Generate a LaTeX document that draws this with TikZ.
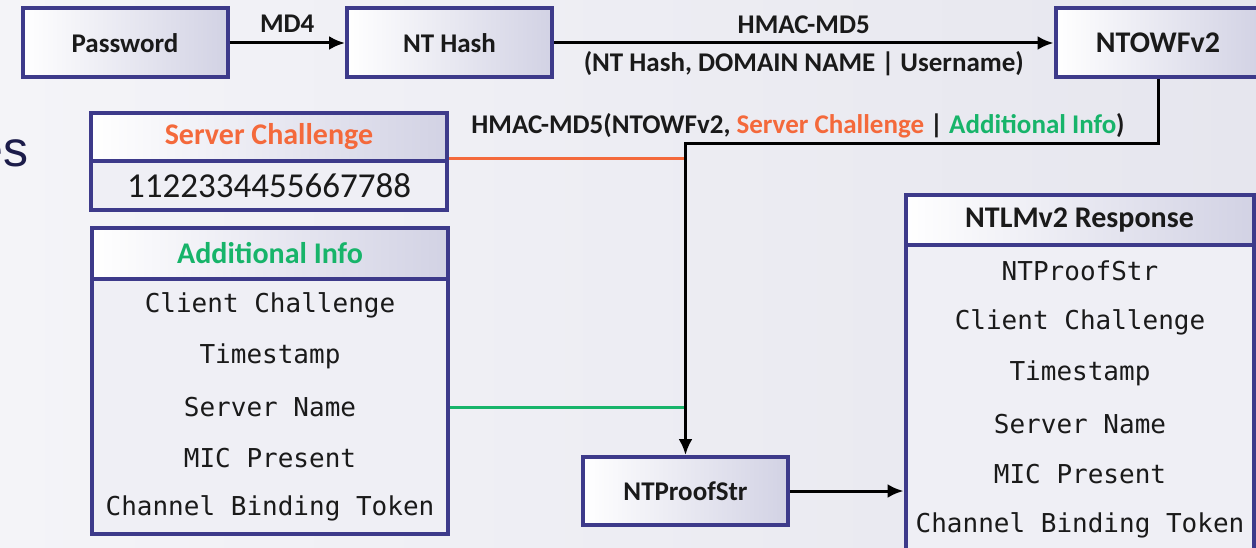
\documentclass[tikz,border=0pt]{standalone}
\usepackage{fontspec}
\setmainfont{Carlito}
\newfontfamily\monofam{DejaVu Sans Mono}
\newfontfamily\slidefam{Liberation Sans}
\usetikzlibrary{arrows.meta}
\definecolor{bgl}{HTML}{F4F4F8}
\definecolor{bgr}{HTML}{E6E6EE}
\definecolor{navy}{HTML}{3D3A8A}
\definecolor{lav}{HTML}{D2D2E4}
\definecolor{bodyfill}{HTML}{EFEFF5}
\definecolor{orng}{HTML}{F4693B}
\definecolor{grn}{HTML}{17B46A}
\definecolor{ink}{HTML}{1A1A1A}
\definecolor{slideink}{HTML}{1C1C4A}
\tikzset{
  procbox/.style={draw=navy, line width=4pt, left color=white, right color=lav,
    minimum width=205pt, minimum height=69pt, inner sep=0pt,
    font=\fontsize{27}{30}\selectfont\bfseries, text=ink},
  headbox/.style={draw=navy, line width=4pt, left color=white, right color=lav,
    minimum width=356pt, inner sep=0pt, font=\fontsize{30}{34}\selectfont\bfseries},
  bodybox/.style={draw=navy, line width=4pt, fill=bodyfill, minimum width=356pt, inner sep=0pt},
  rowtext/.style={font=\monofam\fontsize{26}{28}\selectfont, text=ink, inner sep=0pt},
  arr/.style={draw=black, line width=3pt, -{Latex[length=16pt,width=14pt]}},
  lbl/.style={font=\fontsize{27}{30}\selectfont\bfseries, text=ink, inner sep=0pt},
  feed/.style={line width=3pt}
}
\begin{document}
\begin{tikzpicture}[x=1pt,y=-1pt]
\useasboundingbox (0,0) rectangle (1256,548);
\shade[left color=bgl, right color=bgr] (0,0) rectangle (1256,548);
% slide fragment
\node[anchor=base east, font=\slidefam\fontsize{50}{56}\selectfont, text=slideink, inner sep=0pt] (es) at (29,167) {es};
% top row
\node[procbox] (pw) at (125,43) {Password};
\node[procbox] (nth) at (449.5,43) {NT Hash};
\node[procbox, font=\fontsize{30}{33}\selectfont\bfseries] (ntowf) at (1158,43) {NTOWFv2};
% server challenge table
\node[headbox, minimum height=48pt, text=orng] (schead) at (269,137) {Server Challenge};
\node[bodybox, minimum height=49pt, font=\fontsize{35}{38}\selectfont, text=ink] (scval) at (269,185.5) {1122334455667788};
% additional info table
\node[bodybox, minimum height=255pt] (aibody) at (270,406.5) {};
\node[headbox, minimum height=51pt, text=grn] (aihead) at (270,253.5) {Additional Info};
\node[rowtext] (ai1) at (270,305) {Client Challenge};
\node[rowtext] (ai2) at (270,356) {Timestamp};
\node[rowtext] (ai3) at (270,407) {Server Name};
\node[rowtext] (ai4) at (270,458) {MIC Present};
\node[rowtext] (ai5) at (270,508) {Channel Binding Token};
% NTLMv2 response table
\node[bodybox, minimum width=348pt, minimum height=330pt] (rbody) at (1079.5,410) {};
\node[headbox, minimum width=348pt, minimum height=50pt, text=ink] (rhead) at (1079.5,220) {NTLMv2 Response};
\node[rowtext] (r1) at (1080,271) {NTProofStr};
\node[rowtext] (r2) at (1080,322) {Client Challenge};
\node[rowtext] (r3) at (1080,373) {Timestamp};
\node[rowtext] (r4) at (1080,424) {Server Name};
\node[rowtext] (r5) at (1080,474) {MIC Present};
\node[rowtext] (r6) at (1080,525) {Channel Binding Token};
% NTProofStr
\node[procbox, minimum height=68pt] (proof) at (685.5,491) {NTProofStr};
% connectors
\draw[arr] (pw) -- node[lbl, above=9pt] (md4) {MD4} (nth);
\draw[arr] (nth) -- node[lbl, above=8pt] (hm1) {HMAC-MD5} node[lbl, below=7pt] (hm2) {(NT Hash, DOMAIN NAME | Username)} (ntowf);
\coordinate (t1) at (1158,144);
\coordinate (t2) at (685.5,144);
\draw[feed, orng] (scval.north east) -- (scval.north east -| t2);
\coordinate (g) at (685.5,407);
\draw[feed, grn] (g -| aibody.east) -- (g);
\draw[arr] (ntowf.south) -- (t1) -- (t2) -- (proof.north);
\node[lbl, anchor=base] (hm3) at (798,134) {HMAC-MD5(NTOWFv2, \textcolor{orng}{Server Challenge} | \textcolor{grn}{Additional Info})};
\draw[arr] (proof.east) -- (proof.east -| rbody.west);
\end{tikzpicture}
\end{document}
